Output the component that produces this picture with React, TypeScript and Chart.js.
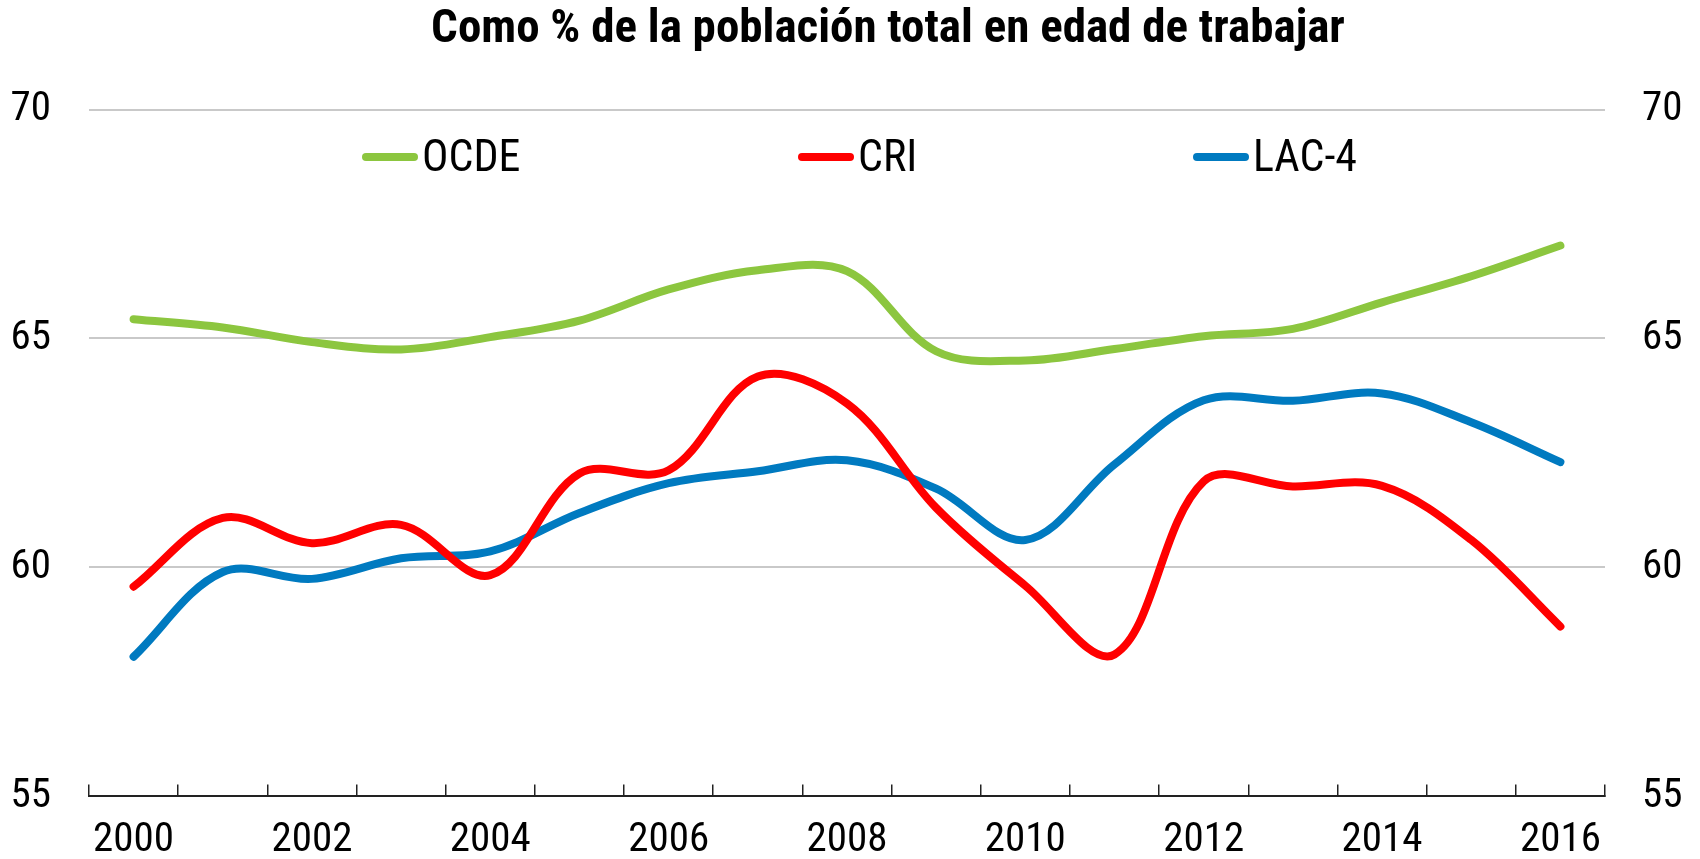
import React, { useEffect, useRef } from 'react';
import { Chart, registerables } from 'chart.js';

Chart.register(...registerables);

const chartTitle = 'Como % de la población total en edad de trabajar';
const years = ['2000', '2001', '2002', '2003', '2004', '2005', '2006', '2007', '2008', '2009', '2010', '2011', '2012', '2013', '2014', '2015', '2016'];
const seriesNames = ['OCDE', 'CRI', 'LAC-4'];
const ocde = [65.42, 65.24, 64.92, 64.76, 65.03, 65.39, 66.07, 66.49, 66.47, 64.72, 64.52, 64.77, 65.05, 65.21, 65.79, 66.36, 67.03];
const cri = [59.58, 61.08, 60.53, 60.93, 59.83, 62.05, 62.12, 64.17, 63.58, 61.3, 59.6, 58.1, 61.88, 61.77, 61.78, 60.6, 58.71];
const lac4 = [58.05, 59.9, 59.75, 60.2, 60.35, 61.19, 61.84, 62.1, 62.34, 61.72, 60.6, 62.25, 63.65, 63.64, 63.8, 63.17, 62.3];
const yMin = 55;
const yMax = 70;
const yStep = 5;

const FONT = "'Liberation Sans Narrow', 'Arial Narrow', 'Roboto Condensed', 'DejaVu Sans Condensed', sans-serif";
const colors = ['#8CC63F', '#FF0000', '#007AC0'];

const lineLegend = {
  id: 'lineLegend',
  afterLayout(chart: any, _args: any, opts: any) {
    const t = chart.titleBlock;
    if (t) {
      t.left += opts.titleShift;
      t.right += opts.titleShift;
    }
  },
  afterDraw(chart: any, _args: any, opts: any) {
    const ctx = chart.ctx;
    ctx.save();
    chart.data.datasets.forEach((ds: any, i: number) => {
      const x = opts.starts[i];
      const y = opts.y;
      ctx.beginPath();
      ctx.lineCap = 'round';
      ctx.lineWidth = opts.lineWidth;
      ctx.strokeStyle = ds.borderColor;
      ctx.moveTo(x, y);
      ctx.lineTo(x + opts.length, y);
      ctx.stroke();
      ctx.fillStyle = opts.color;
      ctx.font = opts.font;
      ctx.textBaseline = 'middle';
      ctx.textAlign = 'left';
      ctx.fillText(ds.label, x + opts.length + opts.gap, y + opts.textDy);
    });
    ctx.restore();
  },
};

export default function App() {
  const canvasRef = useRef<HTMLCanvasElement | null>(null);

  useEffect(() => {
    if (!canvasRef.current) return;
    const tickFont = { family: FONT, size: 41 };
    const chart = new Chart(canvasRef.current, {
      type: 'line',
      data: {
        labels: years,
        datasets: [ocde, cri, lac4].map((vals, i) => ({
          label: seriesNames[i],
          data: vals,
          borderColor: colors[i],
          backgroundColor: colors[i],
          borderWidth: 8,
          pointRadius: 0,
          pointHoverRadius: 0,
          tension: 0.35,
          fill: false,
          borderCapStyle: 'round' as const,
          borderJoinStyle: 'round' as const,
          yAxisID: 'y',
        })),
      },
      options: {
        animation: false,
        responsive: true,
        maintainAspectRatio: false,
        devicePixelRatio: 1,
        layout: { padding: 0 },
        plugins: {
          legend: { display: false },
          tooltip: { enabled: false },
          title: {
            display: true,
            text: chartTitle,
            color: '#000',
            font: { family: FONT, size: 47, weight: 'bold', lineHeight: 1.1 },
            padding: { top: 4, bottom: 53.8 },
          },
          lineLegend: {
            titleShift: 38,
            starts: [366, 802, 1197],
            length: 48,
            gap: 8,
            y: 157,
            textDy: 3,
            lineWidth: 8,
            color: '#000',
            font: `44px ${FONT}`,
          },
        } as any,
        scales: {
          x: {
            type: 'category',
            offset: true,
            grid: {
              offset: true,
              drawOnChartArea: false,
              drawTicks: true,
              tickLength: -12,
              color: '#222',
              lineWidth: 1.5,
            },
            border: { display: true, color: '#222', width: 2 },
            ticks: {
              autoSkip: false,
              maxRotation: 0,
              minRotation: 0,
              padding: 32,
              color: '#000',
              font: tickFont,
              callback: (_v: any, i: number) => (i % 2 === 0 ? years[i] : ''),
            },
            afterFit: (s: any) => {
              s.height = 59;
            },
          },
          y: {
            position: 'left',
            min: yMin,
            max: yMax,
            grid: {
              drawTicks: false,
              lineWidth: 2,
              color: (c: any) => (c.tick && c.tick.value === yMin ? 'rgba(0,0,0,0)' : '#C9C9C9'),
            },
            border: { display: false },
            ticks: { stepSize: yStep, padding: 38, color: '#000', font: tickFont },
            afterFit: (s: any) => {
              s.width = 89;
            },
          },
          y2: {
            position: 'right',
            min: yMin,
            max: yMax,
            grid: { display: false, drawTicks: false },
            border: { display: false },
            ticks: { stepSize: yStep, padding: 37, color: '#000', font: tickFont },
            afterFit: (s: any) => {
              s.width = 95;
            },
          },
        },
      } as any,
      plugins: [lineLegend],
    });
    return () => chart.destroy();
  }, []);

  return (
    <div style={{ position: 'fixed', left: 0, top: 0, width: 1700, height: 859, background: '#fff' }}>
      <canvas ref={canvasRef} />
    </div>
  );
}
